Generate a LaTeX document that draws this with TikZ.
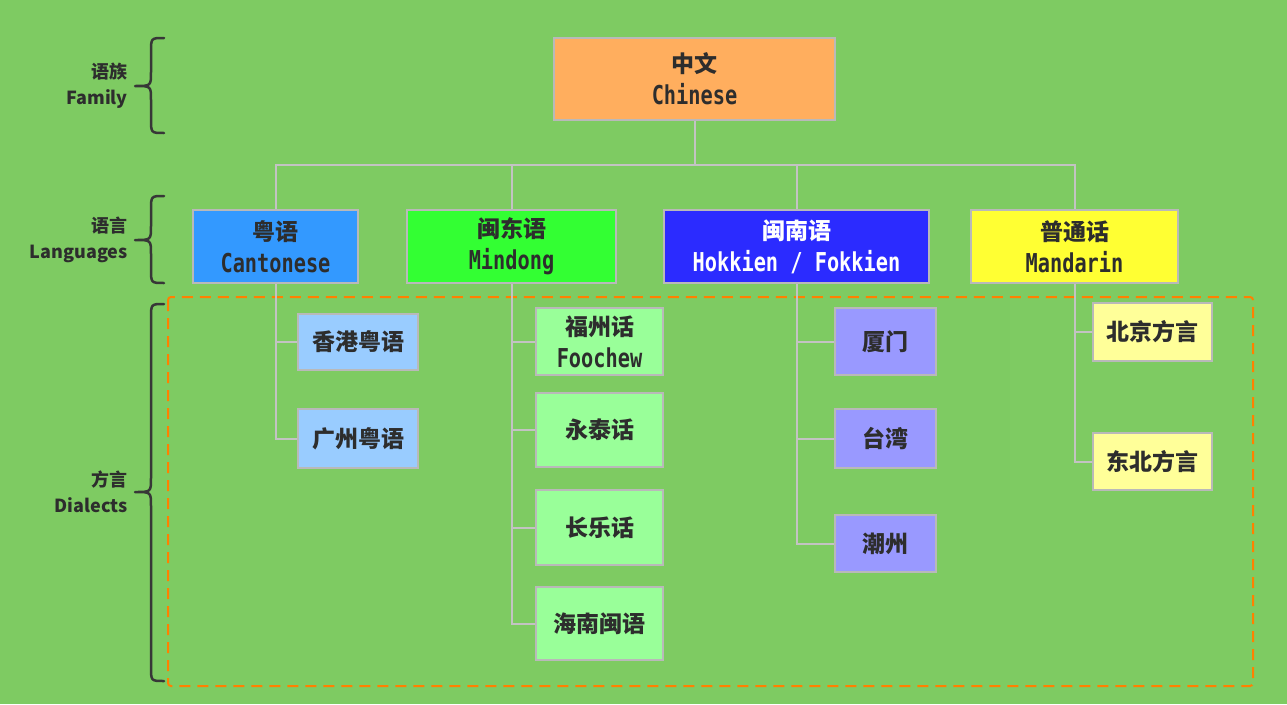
\documentclass[tikz,border=0pt]{standalone}
\usepackage{fontspec}
\newfontfamily\cjk{Noto Sans CJK SC}
\newfontfamily\mono[FakeStretch=0.78]{DejaVu Sans Mono}
\definecolor{bgc}{RGB}{126,203,98}
\definecolor{boxline}{RGB}{185,185,185}
\definecolor{wire}{RGB}{195,195,195}
\definecolor{txt}{RGB}{45,45,45}
\definecolor{brc}{RGB}{55,55,55}
\definecolor{dashc}{RGB}{255,128,0}
\definecolor{cZh}{RGB}{255,174,94}
\definecolor{cCan}{RGB}{51,153,255}
\definecolor{cMin}{RGB}{51,255,51}
\definecolor{cHok}{RGB}{43,43,255}
\definecolor{cMan}{RGB}{255,255,51}
\definecolor{lCan}{RGB}{153,204,255}
\definecolor{lMin}{RGB}{153,255,153}
\definecolor{lHok}{RGB}{153,153,255}
\definecolor{lMan}{RGB}{255,255,153}
\newcommand\zhtxt[1]{{\cjk\bfseries #1}}
\newcommand\entxt[1]{{\mono\bfseries\fontsize{26}{32}\selectfont #1}}
\begin{document}
\begin{tikzpicture}[x=1pt,y=-1pt,
  box/.style={draw=boxline, line width=2.5pt, inner sep=0pt, align=center, text=txt,
    font=\fontsize{23}{32}\selectfont},
  langbox/.style={box, minimum height=73pt},
  dialbox/.style={box},
  wireline/.style={draw=wire, line width=2pt},
  bracket/.style={draw=brc, line width=2.5pt, line cap=round, line join=round},
  tierlabel/.style={anchor=east, align=right, text=txt, inner sep=0pt,
    font=\cjk\bfseries\fontsize{18}{26}\selectfont},
]
% background
\fill[bgc] (0,0) rectangle (1287,704);
\useasboundingbox (0,0) rectangle (1287,704);

% dialect area
\draw[dashc, line width=2pt, dash pattern=on 11pt off 7pt, rounded corners=3pt]
  (168,297) rectangle (1253,686);

% bus point below the root box
\coordinate (zhs) at (694.5,120);
\path (zhs) ++(0,45) coordinate (bus);

% family
\node[box, fill=cZh, minimum width=281pt, minimum height=82pt] (zh) at (694.5,79)
  {\zhtxt{中文}\\\entxt{Chinese}};

% languages
\node[langbox, fill=cCan, minimum width=165pt] (can) at (275.5,246.5)
  {\zhtxt{粤语}\\\entxt{Cantonese}};
\node[langbox, fill=cMin, minimum width=209pt] (min) at (511.5,246.5)
  {\zhtxt{闽东语}\\\entxt{Mindong}};
\node[langbox, fill=cHok, minimum width=265pt, text=white] (hok) at (796.5,246.5)
  {\zhtxt{闽南语}\\\entxt{Hokkien / Fokkien}};
\node[langbox, fill=cMan, minimum width=207pt] (man) at (1074.5,246.5)
  {\zhtxt{普通话}\\\entxt{Mandarin}};

% dialects
\node[dialbox, fill=lCan, minimum width=120pt, minimum height=56pt] (hk) at (358,342) {\zhtxt{香港粤语}};
\node[dialbox, fill=lCan, minimum width=120pt, minimum height=59pt] (gz) at (358,438.5) {\zhtxt{广州粤语}};

\node[dialbox, fill=lMin, minimum width=127pt, minimum height=67pt] (fz) at (599.5,341.5)
  {\zhtxt{福州话}\\\entxt{Foochew}};
\node[dialbox, fill=lMin, minimum width=127pt, minimum height=74pt] (yt) at (599.5,430) {\zhtxt{永泰话}};
\node[dialbox, fill=lMin, minimum width=127pt, minimum height=75pt] (cl) at (599.5,527.5) {\zhtxt{长乐话}};
\node[dialbox, fill=lMin, minimum width=127pt, minimum height=73pt] (hn) at (599.5,623.5) {\zhtxt{海南闽语}};

\node[dialbox, fill=lHok, minimum width=101pt, minimum height=67pt] (xm) at (885.5,341.5) {\zhtxt{厦门}};
\node[dialbox, fill=lHok, minimum width=101pt, minimum height=59pt] (tw) at (885.5,438.5) {\zhtxt{台湾}};
\node[dialbox, fill=lHok, minimum width=101pt, minimum height=57pt] (cz) at (885.5,543.5) {\zhtxt{潮州}};

\node[dialbox, fill=lMan, minimum width=119pt, minimum height=58pt] (bj) at (1152.5,332) {\zhtxt{北京方言}};
\node[dialbox, fill=lMan, minimum width=119pt, minimum height=57pt] (db) at (1152.5,461.5) {\zhtxt{东北方言}};

% connectors: family to languages
\draw[wireline] (zh.south) -- (bus);
\draw[wireline] (bus) -| (can.north);
\draw[wireline] (bus) -| (min.north);
\draw[wireline] (bus) -| (hok.north);
\draw[wireline] (bus) -| (man.north);

% connectors: languages to dialects
\draw[wireline] (can.south) |- (hk.west);
\draw[wireline] (can.south) |- (gz.west);
\draw[wireline] (min.south) |- (fz.west);
\draw[wireline] (min.south) |- (yt.west);
\draw[wireline] (min.south) |- (cl.west);
\draw[wireline] (min.south) |- (hn.west);
\draw[wireline] (hok.south) |- (xm.west);
\draw[wireline] (hok.south) |- (tw.west);
\draw[wireline] (hok.south) |- (cz.west);
\draw[wireline] (man.south) |- (bj.west);
\draw[wireline] (man.south) |- (db.west);

% tier braces
\def\tierbrace#1#2#3{%
  \draw[bracket] (164,#1) .. controls (151,#1) .. (151,#1+14)
    -- (151,#3-14) .. controls (151,#3) .. (135,#3)
    .. controls (151,#3) .. (151,#3+14)
    -- (151,#2-14) .. controls (151,#2) .. (164,#2);}
\tierbrace{38}{133}{86}
\tierbrace{196}{283}{240}
\tierbrace{304}{681}{492}

% tier labels
\node[tierlabel] (lfam) at (128,86) {语族\\Family};
\node[tierlabel] (llang) at (128,240) {语言\\Languages};
\node[tierlabel] (ldial) at (128,492) {方言\\Dialects};
\end{tikzpicture}
\end{document}
